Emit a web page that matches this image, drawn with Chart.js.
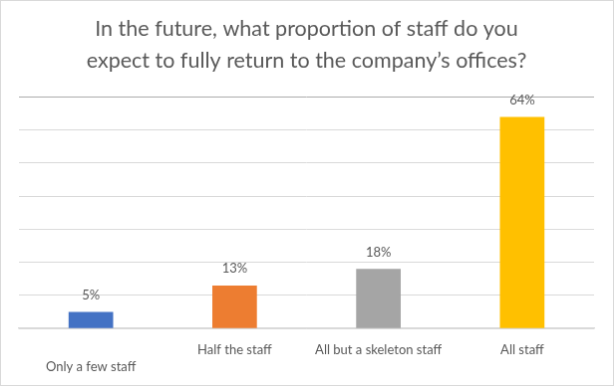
<!DOCTYPE html>
<html>
<head>
<meta charset="utf-8">
<script src="https://cdn.jsdelivr.net/npm/chart.js@4"></script>
<style>
  body { margin: 0; background: #fff; }
  #staff-chart { border: 1px solid #d9d9d9; display: block; }
</style>
</head>
<body>
<canvas id="staff-chart" width="614" height="386"></canvas>
<script>
let categories = ['Only a few staff', 'Half the staff', 'All but a skeleton staff', 'All staff']
let shares = [5, 13, 18, 64] // percent of respondents
let barColors = ['#4472C4', '#ED7D31', '#A5A5A5', '#FFC000']
let titleLines = ['In the future, what proportion of staff do you', 'expect to fully return to the company\u2019s offices?']

let fontFamily = 'Lato, "Open Sans", sans-serif'
let textColor = '#595959'

// draws the % value above each bar, like excel data labels
let valueLabels = {
    id: 'valueLabels',
    afterDatasetsDraw(chart) {
        let ctx = chart.ctx
        let meta = chart.getDatasetMeta(0)
        ctx.save()
        ctx.font = '13px ' + fontFamily
        ctx.fillStyle = textColor
        ctx.textAlign = 'center'
        ctx.textBaseline = 'middle'
        meta.data.forEach(function(bar, i) {
            ctx.fillText(shares[i] + '%', bar.x, bar.y - 17)
        })
        ctx.restore()
    }
}

let canvas = document.querySelector('#staff-chart')
let context = canvas.getContext('2d')

let chart = new Chart(context, {
    type: 'bar',
    data: {
        labels: categories,
        datasets: [{
            data: shares,
            backgroundColor: barColors,
            barPercentage: 0.31,
            categoryPercentage: 1
        }]
    },
    plugins: [valueLabels],
    options: {
        responsive: false,
        animation: false,
        layout: {
            padding: { left: 18, right: 19, bottom: -3 }
        },
        plugins: {
            legend: { display: false },
            tooltip: { enabled: false },
            title: {
                display: true,
                text: titleLines,
                color: textColor,
                font: { family: fontFamily, size: 21.5, weight: 'normal', lineHeight: 1.5 },
                padding: { top: 12, bottom: 20 }
            }
        },
        scales: {
            x: {
                grid: { display: false, drawTicks: false },
                border: { color: '#d9d9d9', width: 1.5 },
                ticks: {
                    color: textColor,
                    padding: 13,
                    maxRotation: 0,
                    autoSkip: false,
                    font: { family: fontFamily, size: 13, lineHeight: 1.3 },
                    callback: function(value, index) {
                        // first label sits one row lower, as in the original
                        return index === 0 ? ['', categories[index]] : categories[index]
                    }
                }
            },
            y: {
                min: 0,
                max: 70,
                ticks: { display: false, stepSize: 10 },
                border: { display: false },
                grid: {
                    drawTicks: false,
                    color: function(c) { return c.tick && c.tick.value === 70 ? '#a6a6a6' : '#d9d9d9' }
                }
            }
        }
    }
})
</script>
</body>
</html>
